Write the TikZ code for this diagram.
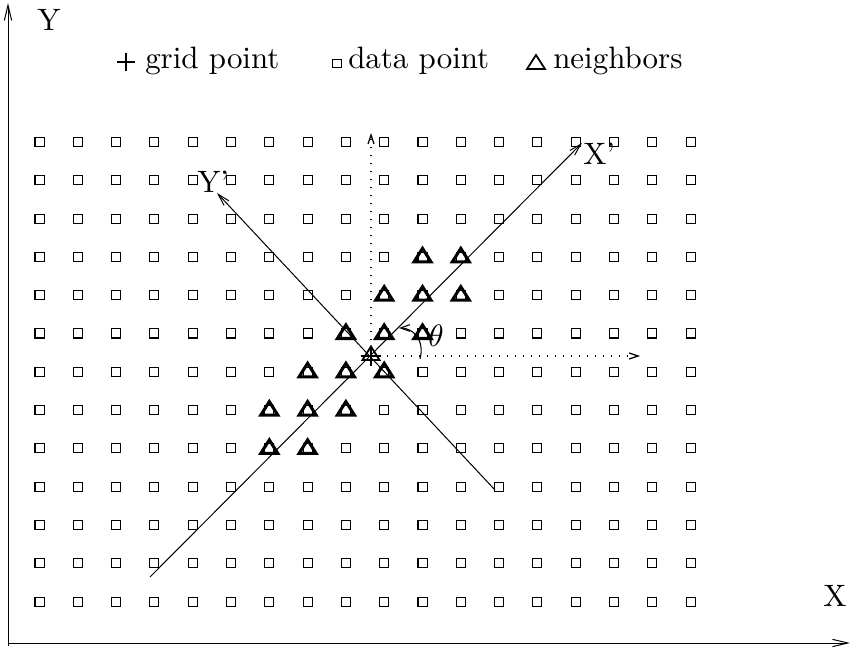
\documentclass[tikz,border=0pt]{standalone}
\usepackage{graphicx}
\usetikzlibrary{arrows.meta}
\newcommand{\bigtxt}[1]{\scalebox{2.32}{\fontsize{10}{12}\selectfont #1}}
\begin{document}
\begin{tikzpicture}[x=0.75pt,y=-0.75pt,
  datapt/.style={draw, rectangle, minimum size=6.8pt, inner sep=0pt, line width=0.8pt},
  nbr/.style={line width=2.3pt, line join=miter},
  axisline/.style={line width=0.75pt, -{Straight Barb[length=11.5pt,width=5.5pt]}},
  primeaxis/.style={line width=0.75pt, -{Straight Barb[length=9pt,width=5pt]}},
  dotaxis/.style={line width=0.9pt, dash pattern=on 1pt off 5pt, -{Straight Barb[length=6.75pt,width=4.5pt]}},
  lbl/.style={inner sep=0pt, anchor=base west}]
\useasboundingbox (0,0) rectangle (853,648);

% axes
\coordinate (o) at (8,643);
\coordinate (ytip) at (8,3);
\coordinate (xtip) at (850,643);
\draw[axisline] (8,646) -- (ytip);
\draw[axisline] (o) -- (xtip);
\node[lbl] (ylab) at (37,31) {\bigtxt{Y}};
\node[lbl] (xlab) at (823,606) {\bigtxt{X}};

% legend
\draw[line width=1.5pt] (117,62) -- (135,62) (126,53) -- (126,71);
\node[lbl] (lg1) at (145,69) {\bigtxt{grid point}};
\node[datapt, minimum size=6.3pt] (lgsq) at (337,63.5) {};
\node[lbl] (lg2) at (348,69) {\bigtxt{data point}};
\draw[line width=1.3pt, line join=miter] (527,69) -- (545,69) -- (536,55) -- cycle;
\node[lbl] (lg3) at (553,69) {\bigtxt{neighbors}};

% data points
\foreach \i in {0,...,17}
  \foreach \j in {0,...,12}
    \node[datapt] (d-\i-\j) at ({39.5+38.3*\i},{142+38.3*\j}) {};

% rotated axes
\coordinate (c) at (371,356);
\coordinate (xpS) at (150,577);
\coordinate (xpE) at (582,143);
\coordinate (ypS) at (495,490);
\coordinate (ypE) at (217,193);
\draw[primeaxis] (xpS) -- (xpE);
\draw[primeaxis] (ypS) -- (ypE);
\node[lbl] (xplab) at (583,165) {\bigtxt{X'}};
\node[lbl] (yplab) at (197,193) {\bigtxt{Y'}};

% dotted original axes from grid point
\coordinate (vtop) at (371,133);
\coordinate (hright) at (640,356);
\draw[dotaxis] (c) -- (vtop);
\draw[dotaxis] (c) -- (hright);

% neighbors
\foreach \i/\j in {10/3,11/3,9/4,10/4,11/4,8/5,9/5,10/5,7/6,8/6,9/6,6/7,7/7,8/7,6/8,7/8}
  \draw[nbr, shift={(d-\i-\j.center)}] (-8.5,5) -- (8.5,5) -- (0,-8.5) -- cycle;

% grid point
\draw[line width=1.4pt, line join=miter, shift={(c)}] (-8.5,4) -- (8.5,4) -- (0,-9.5) -- cycle;
\draw[line width=1.4pt, shift={(c)}] (-10,0) -- (10,0) (0,-9) -- (0,10);

% angle theta
\coordinate (aS) at (420,359);
\coordinate (aE) at (399,328);
\draw[line width=0.8pt, -{Straight Barb[length=7pt,width=5pt]}] (aS) .. controls (425,340) and (413,328) .. (aE);
\node[inner sep=0pt] (theta) at (436,336) {\scalebox{2.32}{$\theta$}};
\end{tikzpicture}
\end{document}
